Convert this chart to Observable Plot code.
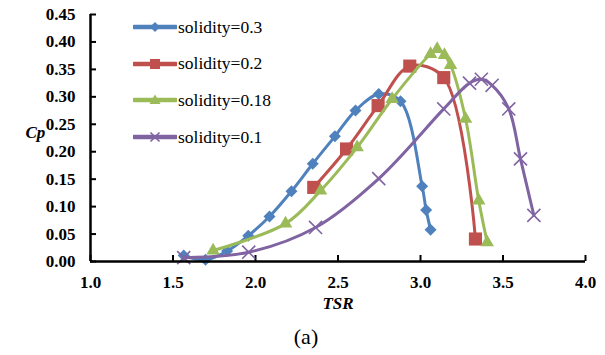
<!DOCTYPE html>
<html>
<head>
<meta charset="utf-8">
<script src="https://cdn.jsdelivr.net/npm/d3@7"></script>
<script src="https://cdn.jsdelivr.net/npm/@observablehq/plot@0.6"></script>
<style>
  html, body { margin: 0; padding: 0; background: #fff; }
  #wrap { position: relative; width: 605px; height: 355px; }
  #legend { position: absolute; left: 133px; top: 9px; font-family: "Liberation Serif", "Times New Roman", serif; font-size: 17.5px; color: #000; }
  .row { display: flex; align-items: center; height: 36.6px; }
  .row svg { width: 44px; height: 16px; margin-right: 1px; }
</style>
</head>
<body>
<div id="wrap"><div id="legend"></div></div>
<script>
// ---- data ----
const seriesNames = ["solidity=0.3", "solidity=0.2", "solidity=0.18", "solidity=0.1"];
const seriesColors = ["#4F81BD", "#C0504D", "#9BBB59", "#8064A2"];
const seriesSymbols = ["diamond2", "square", "triangle", "times"];

const tsr03 = [1.565, 1.697, 1.828, 1.956, 2.085, 2.218, 2.347, 2.481, 2.606, 2.747, 2.879, 3.010, 3.034, 3.061];
const cp03  = [0.011, 0.003, 0.019, 0.047, 0.082, 0.128, 0.178, 0.228, 0.275, 0.305, 0.292, 0.137, 0.094, 0.058];

const tsr02 = [2.353, 2.552, 2.743, 2.935, 3.141, 3.333];
const cp02  = [0.135, 0.205, 0.284, 0.356, 0.335, 0.041];

const tsr018 = [1.743, 2.182, 2.394, 2.616, 2.828, 3.061, 3.101, 3.145, 3.182, 3.273, 3.353, 3.404];
const cp018  = [0.020, 0.069, 0.129, 0.208, 0.296, 0.378, 0.387, 0.376, 0.358, 0.260, 0.111, 0.035];

const tsr01 = [1.565, 1.959, 2.364, 2.747, 3.141, 3.297, 3.369, 3.434, 3.535, 3.606, 3.687];
const cp01  = [0.007, 0.017, 0.062, 0.151, 0.278, 0.325, 0.332, 0.321, 0.278, 0.187, 0.084];

const xTicks = [1.0, 1.5, 2.0, 2.5, 3.0, 3.5, 4.0];
const yTicks = [0, 0.05, 0.10, 0.15, 0.20, 0.25, 0.30, 0.35, 0.40, 0.45];

// ---- build table ----
const allX = [tsr03, tsr02, tsr018, tsr01];
const allY = [cp03, cp02, cp018, cp01];
const series = seriesNames.map((name, i) => ({
  name, color: seriesColors[i], symbol: seriesSymbols[i],
  data: allX[i].map((x, j) => ({x, y: allY[i][j]}))
}));

const symR = {"diamond2": 5.4, "square": 7.4, "triangle": 5.0, "times": 6};

const marks = [];
for (const s of series) {
  marks.push(Plot.line(s.data, {x: "x", y: "y", stroke: s.color, strokeWidth: 3, curve: "catmull-rom"}));
  if (s.symbol === "times") {
    marks.push(Plot.dot(s.data, {x: "x", y: "y", symbol: s.symbol, r: symR[s.symbol], stroke: s.color, strokeWidth: 1.6}));
  } else {
    marks.push(Plot.dot(s.data, {x: "x", y: "y", symbol: s.symbol, r: symR[s.symbol], fill: s.color, stroke: "none"}));
  }
}

const W = 605, H = 355, mL = 90, mR = 20, mT = 14, mB = 94;
const tickLen = 6;
const font = "Liberation Serif";
const chart = Plot.plot({
  width: W,
  height: H,
  marginLeft: mL,
  marginRight: mR,
  marginTop: mT,
  marginBottom: mB,
  style: {fontFamily: font, background: "#fff", overflow: "visible"},
  x: {domain: [1, 4]},
  y: {domain: [0, 0.45]},
  marks: [
    // tick labels
    Plot.axisX({ticks: xTicks, tickSize: 0, tickPadding: 14, tickFormat: d3.format(".1f"), fontSize: 17, fontWeight: "bold", fill: "#000", label: null}),
    Plot.axisY({ticks: yTicks, tickSize: 0, tickPadding: 15, tickFormat: d3.format(".2f"), fontSize: 17, fontWeight: "bold", fill: "#000", label: null}),
    // inward tick marks
    Plot.ruleX(xTicks, {stroke: "#000", strokeWidth: 2, insetTop: (H - mT - mB) - tickLen}),
    Plot.ruleY(yTicks, {stroke: "#000", strokeWidth: 2, insetRight: (W - mL - mR) - tickLen}),
    ...marks,
    Plot.ruleX([1], {stroke: "#000", strokeWidth: 2.5}),
    Plot.ruleY([0], {stroke: "#000", strokeWidth: 2.5}),
    Plot.text(["TSR"], {frameAnchor: "bottom", dy: 47, fontSize: 17, fontWeight: "bold", fontStyle: "italic", fill: "#000"}),
    Plot.text(["(a)"], {frameAnchor: "bottom", dx: -32, dy: 82, fontSize: 22, fill: "#000"}),
    Plot.text(["Cp"], {frameAnchor: "left", dx: -65, dy: -5, fontSize: 17, fontWeight: "bold", fontStyle: "italic", fill: "#000"})
  ]
});
document.getElementById("wrap").prepend(chart);

// ---- legend ----
const legend = d3.select("#legend");
const symPaths = {
  "diamond2": "M22,3 L27,8 L22,13 L17,8 Z",
  "square": "M17,3 H27 V13 H17 Z",
  "triangle": "M22,2.5 L27.5,12 L16.5,12 Z",
  "times": "M17.5,3.5 L26.5,12.5 M26.5,3.5 L17.5,12.5"
};
for (const s of series) {
  const row = legend.append("div").attr("class", "row");
  const svg = row.append("svg").attr("viewBox", "0 0 44 16");
  svg.append("line").attr("x1", 1).attr("x2", 43).attr("y1", 8).attr("y2", 8)
    .attr("stroke", s.color).attr("stroke-width", 4.5).attr("stroke-linecap", "round");
  if (s.symbol === "times") {
    svg.append("path").attr("d", symPaths[s.symbol]).attr("stroke", s.color).attr("stroke-width", 1.6).attr("fill", "none");
  } else {
    svg.append("path").attr("d", symPaths[s.symbol]).attr("fill", s.color);
  }
  row.append("span").text(s.name);
}
</script>
</body>
</html>
